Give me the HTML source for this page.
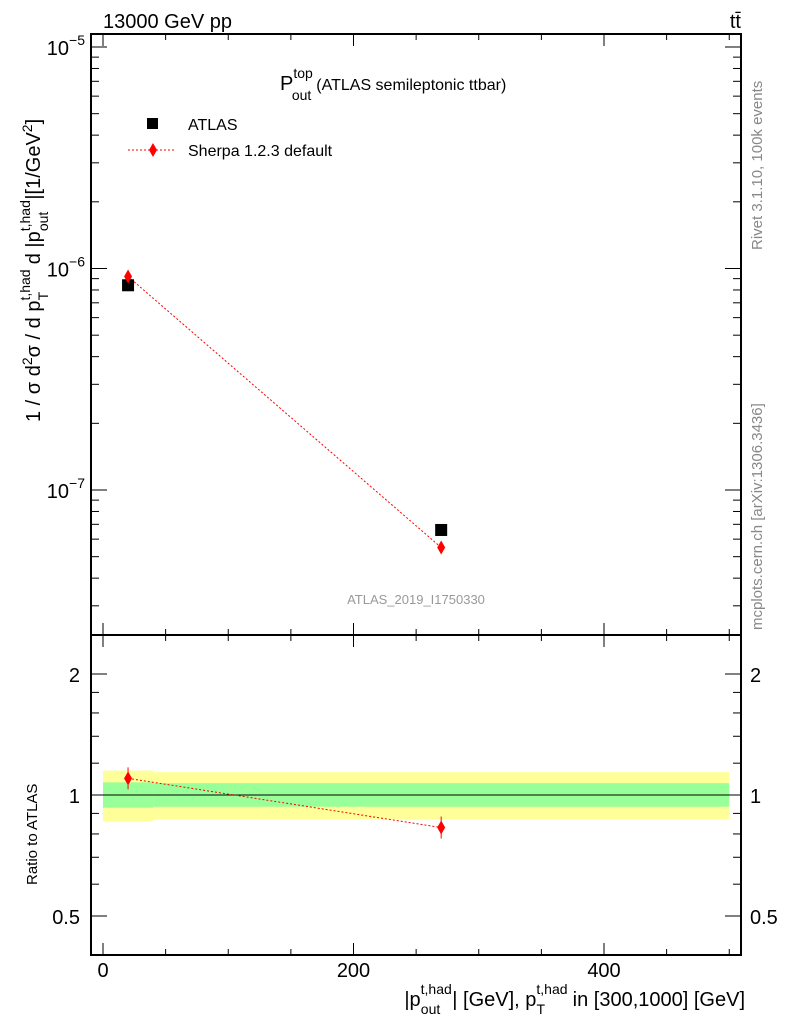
<!DOCTYPE html>
<html><head><meta charset="utf-8"><style>
body{margin:0;background:#fff;}
svg text{font-family:"Liberation Sans",sans-serif;}
</style></head><body>
<svg id="c" width="786" height="1024" xmlns="http://www.w3.org/2000/svg">
<g id="bands"></g>
<g id="marks"></g>
<g id="axes"></g>
<text x="103" y="28" font-size="20">13000 GeV pp</text>
<text x="741" y="28" font-size="20" text-anchor="end">tt̄</text>
<text x="280" y="90" font-size="20">P<tspan font-size="14" dy="-12">top</tspan><tspan font-size="14" dx="-21" dy="22">out</tspan><tspan font-size="16" dy="-10" dx="5">(ATLAS semileptonic ttbar)</tspan></text>
<rect x="147" y="118" width="11" height="11" fill="#000"/>
<text x="188" y="130" font-size="16">ATLAS</text>
<line x1="128" y1="150" x2="176" y2="150" stroke="red" stroke-dasharray="2,2"/>
<path d="M153,143 L157,150 L153,157 L149,150Z" fill="red"/>
<text x="188" y="156" font-size="16">Sherpa 1.2.3 default</text>
<text x="416" y="604" font-size="13" fill="#999" text-anchor="middle">ATLAS_2019_I1750330</text>
<text transform="translate(762,250) rotate(-90)" font-size="15" fill="#888">Rivet 3.1.10,  100k events</text>
<text transform="translate(762,630) rotate(-90)" font-size="15" fill="#888">mcplots.cern.ch [arXiv:1306.3436]</text>
<text transform="translate(40,422) rotate(-90)" font-size="20">1 / σ d<tspan font-size="14" dy="-8">2</tspan><tspan dy="8">σ / d p</tspan><tspan font-size="14" dy="-10">t,had</tspan><tspan font-size="14" dx="-31" dy="18">T</tspan><tspan dx="22" dy="-8"> d |p</tspan><tspan font-size="14" dy="-10">t,had</tspan><tspan font-size="14" dx="-31" dy="18">out</tspan><tspan dx="12" dy="-8">|[1/GeV</tspan><tspan font-size="14" dy="-8">2</tspan><tspan dy="8">]</tspan></text>
<text transform="translate(37,885) rotate(-90)" font-size="15">Ratio to ATLAS</text>
<text x="745" y="1006" font-size="20" text-anchor="end">|p<tspan font-size="14" dy="-12">t,had</tspan><tspan font-size="14" dx="-31" dy="20">out</tspan><tspan dx="12" dy="-8">| [GeV], p</tspan><tspan font-size="14" dy="-12">t,had</tspan><tspan font-size="14" dx="-31" dy="20">T</tspan><tspan dx="22" dy="-8"> in [300,1000] [GeV]</tspan></text>
</svg>
<script>
const binEdges=[0,40,500];
const xCenters=[20,270];
const atlasVals=[8.4e-7,6.6e-8];
const sherpaVals=[9.2e-7,5.5e-8];
const ratioVals=[1.10,0.83];
const statUp=[1.075,1.07];
const statDn=[0.93,0.935];
const totUp=[1.15,1.14];
const totDn=[0.86,0.87];
const xTicks=[0,200,400];
const ratioTicks=[0.5,1,2];
const NS="http://www.w3.org/2000/svg";
const L=91,R=741,T=34,M=635,B=955;
const X=v=>103+(v)*(604-103)/400;
const Y=v=>47+(-5-Math.log10(v))*221.5;
const YR=v=>795-Math.log2(v)*121;
function mk(tag,attrs,parent){const e=document.createElementNS(NS,tag);for(const k in attrs)e.setAttribute(k,attrs[k]);document.getElementById(parent).appendChild(e);return e;}
for(let i=0;i<xCenters.length;i++){
 let e=mk('rect',{x:X(binEdges[i]),y:YR(totUp[i]),width:X(binEdges[i+1])-X(binEdges[i]),height:YR(totDn[i])-YR(totUp[i]),fill:'#ffff99'},'bands');
 
 
 e=mk('rect',{x:X(binEdges[i]),y:YR(statUp[i]),width:X(binEdges[i+1])-X(binEdges[i]),height:YR(statDn[i])-YR(statUp[i]),fill:'#99ff99'},'bands');
 
 
}
let ln=mk('line',{x1:X(binEdges[0]),x2:R,y1:YR(1),y2:YR(1),stroke:'#000'},'marks');


let p=mk('polyline',{points:xCenters.map((x,i)=>X(x)+','+Y(sherpaVals[i])).join(' '),fill:'none',stroke:'red','stroke-dasharray':'2,2'},'marks');


p=mk('polyline',{points:xCenters.map((x,i)=>X(x)+','+YR(ratioVals[i])).join(' '),fill:'none',stroke:'red','stroke-dasharray':'2,2'},'marks');


for(let i=0;i<xCenters.length;i++){
 const x=X(xCenters[i]);
 let r=mk('rect',{x:x-6,y:Y(atlasVals[i])-6,width:12,height:12,fill:'#000'},'marks');
 
 
 let y=Y(sherpaVals[i]);
 let d=mk('path',{d:`M${x},${y-7}L${x+4},${y}L${x},${y+7}L${x-4},${y}Z`,fill:'red'},'marks');
 
 
 y=YR(ratioVals[i]);
 d=mk('path',{d:`M${x},${y-7}L${x+4},${y}L${x},${y+7}L${x-4},${y}Z`,fill:'red'},'marks');
 
 
 d=mk('line',{x1:x,x2:x,y1:y-11,y2:y+11,stroke:'red'},'marks');
 
 
}
let f=mk('rect',{x:L,y:T,width:R-L,height:M-T,fill:'none',stroke:'#000','stroke-width':2},'axes');


f=mk('rect',{x:L,y:M,width:R-L,height:B-M,fill:'none',stroke:'#000','stroke-width':2},'axes');


for(let v=0;v<=500;v+=50){
 const big=v%200===0, len=big?12:6, x=X(v);
 for(const[y0,dir] of [[M,-1],[T,1],[B,-1],[M,1]]){
  const t=mk('line',{x1:x,x2:x,y1:y0,y2:y0+dir*len,stroke:'#000'},'axes');
  
  
 }
}
xTicks.forEach(v=>{const t=mk('text',{x:X(v),y:977,'font-size':20,'text-anchor':'middle'},'axes');t.textContent=v;
 
 });
for(let e=-8;e<=-5;e++)for(let m=1;m<10;m++){
 const v=m*Math.pow(10,e),y=Y(v); if(y<T||y>M)continue;
 const len=m===1?16:8;
 for(const[x0,dir] of [[L,1],[R,-1]]){const t=mk('line',{x1:x0,x2:x0+dir*len,y1:y,y2:y,stroke:'#000'},'axes');
  
  }
 if(m===1){const t=mk('text',{x:85,y:y+8,'font-size':20,'text-anchor':'end'},'axes');
  t.innerHTML=`10<tspan font-size="14" dy="-10">−${-e}</tspan>`;
  
  }
}
[0.4,0.5,0.6,0.7,0.8,0.9,1,1.2,1.4,1.6,1.8,2].forEach(v=>{const y=YR(v);if(y<M||y>B)return;
 const big=ratioTicks.includes(v),len=big?16:8;
 for(const[x0,dir] of [[L,1],[R,-1]]){const t=mk('line',{x1:x0,x2:x0+dir*len,y1:y,y2:y,stroke:'#000'},'axes');
  
  }});
ratioTicks.forEach(v=>{for(const[x,a] of [[80,'end'],[750,'start']]){const t=mk('text',{x:x,y:YR(v)+8,'font-size':20,'text-anchor':a},'axes');t.textContent=v;
 
 }});
</script>
</body></html>
